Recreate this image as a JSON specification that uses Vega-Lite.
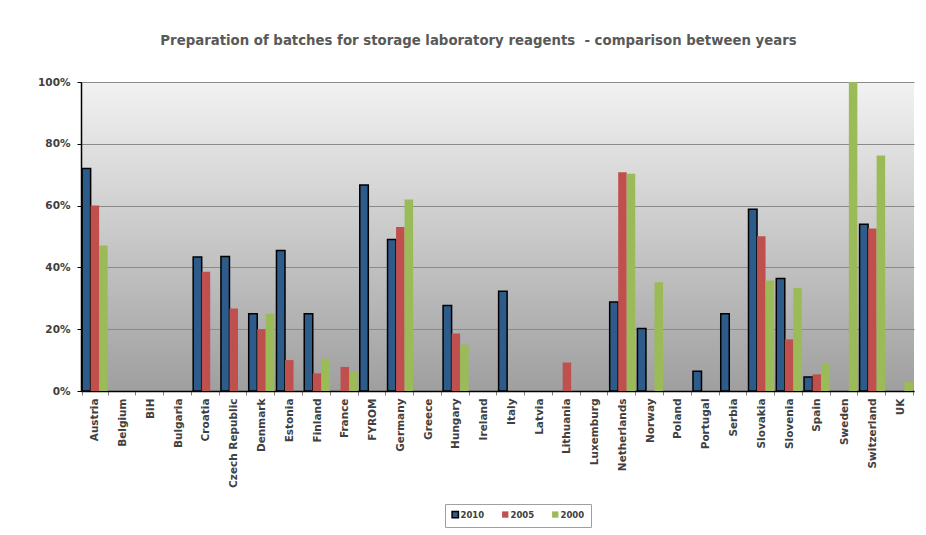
{
  "$schema": "https://vega.github.io/schema/vega-lite/v6.json",
  "width": 833,
  "height": 309,
  "autosize": "none",
  "padding": {"left": 81, "top": 82, "right": 12, "bottom": 144},
  "background": "#ffffff",
  "title": {
    "text": "Preparation of batches for storage laboratory reagents \u00a0- comparison between years",
    "font": "DejaVu Sans",
    "fontSize": 13.3,
    "fontWeight": "bold",
    "color": "#595959",
    "anchor": "middle",
    "dx": -19,
    "offset": 30
  },
  "config": {
    "view": {
      "stroke": null,
      "fill": {
        "gradient": "linear",
        "x1": 0, "y1": 0, "x2": 0, "y2": 1,
        "stops": [
          {"offset": 0, "color": "#f2f2f2"},
          {"offset": 1, "color": "#9f9f9f"}
        ]
      }
    },
    "font": "DejaVu Sans"
  },
  "data": {
    "values": [
      {"country": "Austria", "year": "2010", "value": 72.0},
      {"country": "Austria", "year": "2005", "value": 60.0},
      {"country": "Austria", "year": "2000", "value": 47.1},
      {"country": "Croatia", "year": "2010", "value": 43.4},
      {"country": "Croatia", "year": "2005", "value": 38.6},
      {"country": "Czech Republic", "year": "2010", "value": 43.5},
      {"country": "Czech Republic", "year": "2005", "value": 26.7},
      {"country": "Denmark", "year": "2010", "value": 25.0},
      {"country": "Denmark", "year": "2005", "value": 20.0},
      {"country": "Denmark", "year": "2000", "value": 25.0},
      {"country": "Estonia", "year": "2010", "value": 45.5},
      {"country": "Estonia", "year": "2005", "value": 10.0},
      {"country": "Finland", "year": "2010", "value": 25.0},
      {"country": "Finland", "year": "2005", "value": 5.7},
      {"country": "Finland", "year": "2000", "value": 10.5},
      {"country": "France", "year": "2005", "value": 7.8},
      {"country": "France", "year": "2000", "value": 6.4},
      {"country": "FYROM", "year": "2010", "value": 66.7},
      {"country": "Germany", "year": "2010", "value": 49.0},
      {"country": "Germany", "year": "2005", "value": 53.1},
      {"country": "Germany", "year": "2000", "value": 62.0},
      {"country": "Hungary", "year": "2010", "value": 27.7},
      {"country": "Hungary", "year": "2005", "value": 18.6},
      {"country": "Hungary", "year": "2000", "value": 15.0},
      {"country": "Italy", "year": "2010", "value": 32.3},
      {"country": "Lithuania", "year": "2005", "value": 9.2},
      {"country": "Netherlands", "year": "2010", "value": 28.8},
      {"country": "Netherlands", "year": "2005", "value": 70.8},
      {"country": "Netherlands", "year": "2000", "value": 70.3},
      {"country": "Norway", "year": "2010", "value": 20.2},
      {"country": "Norway", "year": "2000", "value": 35.2},
      {"country": "Portugal", "year": "2010", "value": 6.4},
      {"country": "Serbia", "year": "2010", "value": 25.0},
      {"country": "Slovakia", "year": "2010", "value": 58.8},
      {"country": "Slovakia", "year": "2005", "value": 50.1},
      {"country": "Slovakia", "year": "2000", "value": 35.8},
      {"country": "Slovenia", "year": "2010", "value": 36.4},
      {"country": "Slovenia", "year": "2005", "value": 16.7},
      {"country": "Slovenia", "year": "2000", "value": 33.3},
      {"country": "Spain", "year": "2010", "value": 4.5},
      {"country": "Spain", "year": "2005", "value": 5.4},
      {"country": "Spain", "year": "2000", "value": 8.9},
      {"country": "Sweden", "year": "2000", "value": 100.0},
      {"country": "Switzerland", "year": "2010", "value": 54.0},
      {"country": "Switzerland", "year": "2005", "value": 52.6},
      {"country": "Switzerland", "year": "2000", "value": 76.2},
      {"country": "UK", "year": "2000", "value": 2.9}
    ]
  },
  "mark": {"type": "bar", "strokeWidth": 1.5},
  "encoding": {
    "x": {
      "field": "country",
      "type": "nominal",
      "scale": {
        "domain": ["Austria", "Belgium", "BiH", "Bulgaria", "Croatia", "Czech Republic", "Denmark", "Estonia", "Finland", "France", "FYROM", "Germany", "Greece", "Hungary", "Ireland", "Italy", "Latvia", "Lithuania", "Luxemburg", "Netherlands", "Norway", "Poland", "Portugal", "Serbia", "Slovakia", "Slovenia", "Spain", "Sweden", "Switzerland", "UK"],
        "paddingInner": 0.08,
        "paddingOuter": 0.04
      },
      "axis": {
        "title": null,
        "labelAngle": -90,
        "labelAlign": "right",
        "labelBaseline": "middle",
        "labelFontSize": 10.5,
        "labelFontWeight": "bold",
        "labelColor": "#404040",
        "labelPadding": 3,
        "tickBand": "extent",
        "tickColor": "#808080",
        "tickSize": 4,
        "domainColor": "#000000",
        "domainWidth": 1.5,
        "grid": false
      }
    },
    "xOffset": {
      "field": "year",
      "type": "nominal",
      "scale": {"domain": ["2010", "2005", "2000"], "paddingInner": 0}
    },
    "y": {
      "field": "value",
      "type": "quantitative",
      "scale": {"domain": [0, 100], "nice": false},
      "axis": {
        "title": null,
        "values": [0, 20, 40, 60, 80, 100],
        "labelExpr": "datum.value + '%'",
        "labelFontSize": 10.5,
        "labelFontWeight": "bold",
        "labelColor": "#404040",
        "labelPadding": 7,
        "tickColor": "#000000",
        "tickSize": 4,
        "domainColor": "#000000",
        "domainWidth": 1.5,
        "gridColor": "#8a8a8a",
        "gridWidth": 1
      }
    },
    "fill": {
      "field": "year",
      "type": "nominal",
      "scale": {"domain": ["2010", "2005", "2000"], "range": ["#2e5c8a", "#c0504d", "#9bbb59"]},
      "legend": {
        "title": null,
        "orient": "none",
        "legendX": 364,
        "legendY": 422,
        "direction": "horizontal",
        "symbolType": "square",
        "symbolSize": 40,
        "labelFontSize": 8.5,
        "labelFontWeight": "bold",
        "labelColor": "#404040",
        "labelOffset": 1,
        "columnPadding": 14,
        "strokeColor": "#a0a0a0",
        "padding": 6
      }
    },
    "stroke": {
      "field": "year",
      "type": "nominal",
      "scale": {"domain": ["2010", "2005", "2000"], "range": ["#000000", "transparent", "transparent"]},
      "legend": {
        "title": null,
        "orient": "none",
        "legendX": 364,
        "legendY": 422,
        "direction": "horizontal",
        "symbolType": "square",
        "symbolSize": 40,
        "labelFontSize": 8.5,
        "labelFontWeight": "bold",
        "labelColor": "#404040",
        "labelOffset": 1,
        "columnPadding": 14,
        "strokeColor": "#a0a0a0",
        "padding": 6
      }
    }
  }
}
